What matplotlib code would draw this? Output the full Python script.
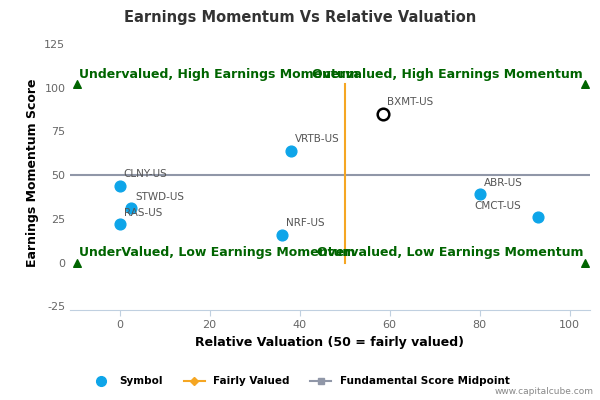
import matplotlib
matplotlib.use("Agg")
import matplotlib.pyplot as plt
from matplotlib.lines import Line2D

plt.rcParams["axes.unicode_minus"] = False

symbols = ["CLNY-US", "STWD-US", "RAS-US", "NRF-US", "VRTB-US", "BXMT-US", "ABR-US", "CMCT-US"]
valuation = [0, 2.5, 0, 36, 38, 58.5, 80, 93]
momentum = [44, 31, 22, 16, 64, 85, 39, 26]
highlight = "BXMT-US"
quad_labels = ["Undervalued, High Earnings Momentum", "Overvalued, High Earnings Momentum",
               "UnderValued, Low Earnings Momentum", "Overvalued, Low Earnings Momentum"]

fig = plt.figure(figsize=(6, 4), dpi=100)
ax = fig.add_axes([0.117, 0.225, 0.866, 0.6875])
ax.set_xlim(-11, 104.5)
ax.set_ylim(-27, 130)
ax.set_yticks([-25, 0, 25, 50, 75, 100, 125])
ax.set_xticks([0, 20, 40, 60, 80, 100])
for s in ["top", "right", "left"]:
    ax.spines[s].set_visible(False)
ax.spines["bottom"].set_color("#c0d0e0")
ax.tick_params(labelsize=8, colors="#666666", length=0)
ax.tick_params(axis="x", length=4, color="#c0d0e0")

ax.axhline(50, color="#9097a8", lw=1.5, zorder=1)
ax.plot([50, 50], [0, 102], color="#f5a623", lw=1.5, zorder=1)

for s, x, y in zip(symbols, valuation, momentum):
    if s == highlight:
        ax.scatter(x, y, s=70, facecolor="white", edgecolor="black", lw=1.8, zorder=3)
    else:
        ax.scatter(x, y, s=60, color="#0ea5e9", zorder=3)
    if s == "CMCT-US":
        ax.annotate(s, (x, y), xytext=(-12, 6), textcoords="offset points", fontsize=7.5,
                    color="#555555", ha="right")
    else:
        ax.annotate(s, (x, y), xytext=(3, 6), textcoords="offset points", fontsize=7.5, color="#555555")

green = "#006400"
ax.scatter([-9.5, 103.5, -9.5, 103.5], [102, 102, 0, 0], marker="^", color=green, s=30, zorder=3, clip_on=False)
ax.text(-9, 104, quad_labels[0], color=green, fontsize=9, fontweight="bold", va="bottom")
ax.text(103, 104, quad_labels[1], color=green, fontsize=9, fontweight="bold", va="bottom", ha="right")
ax.text(-9, 2, quad_labels[2], color=green, fontsize=9, fontweight="bold", va="bottom")
ax.text(103, 2, quad_labels[3], color=green, fontsize=9, fontweight="bold", va="bottom", ha="right")

ax.set_xlabel("Relative Valuation (50 = fairly valued)", fontsize=9, fontweight="bold")
ax.set_ylabel("Earnings Momentum Score", fontsize=9, fontweight="bold")
fig.text(0.5, 0.945, "Earnings Momentum Vs Relative Valuation", ha="center", fontsize=10.5,
         fontweight="bold", color="#333333")

handles = [Line2D([], [], marker="o", color="#0ea5e9", ls="", markersize=7),
           Line2D([], [], marker="D", color="#f5a623", markersize=4, lw=1.5),
           Line2D([], [], marker="s", color="#9097a8", markersize=5, lw=1.5)]
fig.legend(handles, ["Symbol", "Fairly Valued", "Fundamental Score Midpoint"], loc="center",
           bbox_to_anchor=(0.5, 0.047), ncol=3, frameon=False, prop={"size": 7.5, "weight": "bold"})
fig.text(0.99, 0.015, "www.capitalcube.com", ha="right", fontsize=6.5, color="#888888")
fig.savefig("out.png")
